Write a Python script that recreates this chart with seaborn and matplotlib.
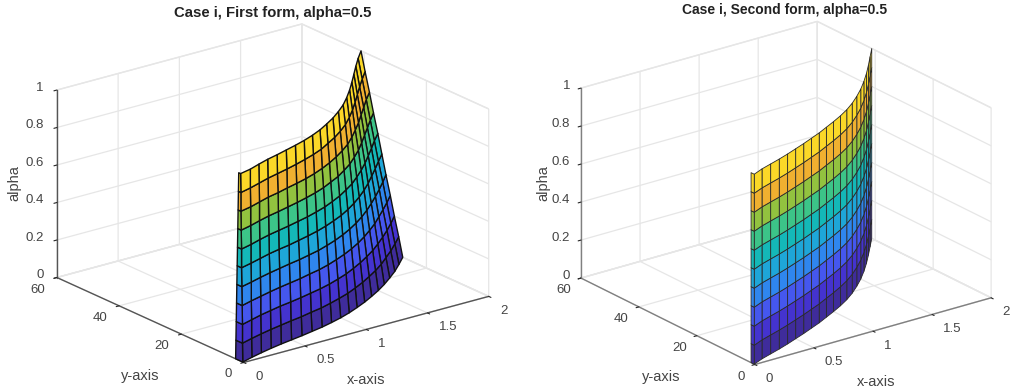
import numpy as np
import matplotlib
matplotlib.use('Agg')
import matplotlib.pyplot as plt
from matplotlib.colors import ListedColormap
from mpl_toolkits.mplot3d import proj3d
import seaborn as sns

x_nodes = [0, 0, 0.1, 0.2, 0.3, 0.4, 0.5, 0.6, 0.7, 0.8, 0.9, 1.0, 1.1, 1.2, 1.3, 1.4, 1.5, 1.6, 1.7, 1.8, 1.9, 2.0]
z_nodes = [0, 0.1, 0.2, 0.3, 0.4, 0.5, 0.6, 0.7, 0.8, 0.9, 1.0]

# y, one row per z node
y_first = [
    [2.6, 0.3, 1.3, 2.2, 3.0, 3.7, 4.3, 4.9, 5.6, 6.3, 7.2, 8.2, 9.4, 10.8, 12.3, 14.0, 15.8, 17.8, 20.0, 22.3, 24.9, 27.6],
    [2.5, 0.4, 1.4, 2.3, 3.1, 3.8, 4.5, 5.1, 5.9, 6.6, 7.6, 8.7, 9.9, 11.4, 13.0, 14.8, 16.7, 18.8, 21.2, 23.6, 26.2, 28.9],
    [2.4, 0.4, 1.4, 2.4, 3.2, 4.0, 4.6, 5.3, 6.1, 6.9, 7.9, 9.1, 10.4, 12.0, 13.7, 15.6, 17.6, 19.9, 22.3, 24.8, 27.5, 30.3],
    [2.3, 0.5, 1.5, 2.4, 3.3, 4.1, 4.8, 5.5, 6.4, 7.2, 8.3, 9.6, 11.0, 12.6, 14.4, 16.4, 18.6, 20.9, 23.5, 26.1, 28.8, 31.6],
    [2.2, 0.6, 1.5, 2.5, 3.4, 4.2, 5.0, 5.7, 6.6, 7.5, 8.7, 10.0, 11.5, 13.2, 15.1, 17.2, 19.5, 22.0, 24.6, 27.3, 30.1, 33.0],
    [2.1, 0.7, 1.6, 2.6, 3.6, 4.4, 5.1, 6.0, 6.9, 7.9, 9.1, 10.5, 12.0, 13.8, 15.8, 18.0, 20.4, 23.0, 25.8, 28.6, 31.5, 34.3],
    [2.0, 0.7, 1.6, 2.7, 3.7, 4.5, 5.3, 6.2, 7.1, 8.2, 9.4, 10.9, 12.5, 14.4, 16.4, 18.8, 21.3, 24.0, 26.9, 29.8, 32.8, 35.6],
    [1.9, 0.8, 1.7, 2.8, 3.8, 4.6, 5.5, 6.4, 7.4, 8.5, 9.8, 11.4, 13.0, 15.0, 17.1, 19.6, 22.2, 25.1, 28.1, 31.1, 34.1, 37.0],
    [1.8, 0.9, 1.7, 2.8, 3.9, 4.7, 5.7, 6.6, 7.6, 8.8, 10.2, 11.8, 13.6, 15.6, 17.8, 20.4, 23.2, 26.1, 29.2, 32.3, 35.4, 38.3],
    [1.7, 0.9, 1.8, 2.9, 4.0, 4.9, 5.8, 6.8, 7.9, 9.1, 10.5, 12.3, 14.1, 16.2, 18.5, 21.2, 24.1, 27.2, 30.4, 33.6, 36.7, 39.7],
    [1.6, 1.0, 1.8, 3.0, 4.1, 5.0, 6.0, 7.0, 8.1, 9.4, 10.9, 12.7, 14.6, 16.8, 19.2, 22.0, 25.0, 28.2, 31.5, 34.8, 38.0, 41.0],
]
# second surface does not change with z
y_second = [1.3, 0.2, 1.6, 2.7, 3.8, 5.0, 6.3, 7.6, 9.0, 10.4, 12.0, 13.6, 15.3, 17.2, 19.4, 21.9, 24.6, 27.6, 30.8, 34.2, 37.7, 41.2]

row_colors = ['#3f2c9b', '#4433cf', '#4557ee', '#2f86ee', '#1ea6d8',
              '#14b8b8', '#3cc488', '#92c23f', '#f0b030', '#fbd828']

x_ticks = [0, 0.5, 1, 1.5, 2]
y_ticks = [0, 20, 40, 60]
z_ticks = [0, 0.2, 0.4, 0.6, 0.8, 1]
x_ticklabels = ['0', '0.5', '1', '1.5', '2']
y_ticklabels = ['0', '20', '40', '60']
z_ticklabels = ['0', '0.2', '0.4', '0.6', '0.8', '1']

W, H = 1016, 392
TEXT = '#444444'

sns.set_theme(style='white')
plt.rcParams['font.family'] = ['Liberation Sans', 'DejaVu Sans']

cmap = ListedColormap(sns.color_palette(row_colors))
fig = plt.figure(figsize=(W / 100, H / 100), dpi=100)


def put_text(s, x, y, size=10.5, **kw):
    fig.text(x / W, 1 - y / H, s, fontsize=size, ha='center', va='center', **kw)


def tick_text(ax, pos, s, offset, ha):
    # mplot3d only pads tick labels outward, so place them from the projected tick
    px, py, _ = proj3d.proj_transform(*pos, ax.get_proj())
    ax.annotate(s, xy=(px, py), xytext=(offset[0] * 0.72, -offset[1] * 0.72), textcoords='offset points',
                ha=ha, va='center', fontsize=9.5, color=TEXT, annotation_clip=False)


def draw_panel(y_grid, box, aspect, elev, azim, edge, lw, axis_color, offsets):
    left, top, size = box
    ax = fig.add_axes([left / W, (H - top - size) / H, size / W, size / H],
                      projection='3d', proj_type='ortho', facecolor='none')
    ax.view_init(elev=elev, azim=azim)
    ax.set_box_aspect(aspect)
    X, Z = np.meshgrid(x_nodes, z_nodes)
    ax.plot_surface(X, np.array(y_grid), Z, rstride=1, cstride=1, cmap=cmap, vmin=0, vmax=1,
                    edgecolor=edge, linewidth=lw, shade=False)
    ax.set_xlim(0, 2, view_margin=0)
    ax.set_ylim(0, 60, view_margin=0)
    ax.set_zlim(0, 1, view_margin=0)
    ax.set_xticks(x_ticks, [''] * len(x_ticks))
    ax.set_yticks(y_ticks, [''] * len(y_ticks))
    ax.set_zticks(z_ticks, [''] * len(z_ticks))
    for axis in (ax.xaxis, ax.yaxis, ax.zaxis):
        axis.set_pane_color((1, 1, 1, 1))
        axis.pane.set_edgecolor('#e6e6e6')
        axis.line.set_color(axis_color)
        axis.line.set_linewidth(1.0)
        axis._axinfo['grid'].update(color='#e6e6e6', linewidth=0.9)
        axis._axinfo['tick'].update(inward_factor=0.15, outward_factor=0.0,
                                    linewidth={True: 0.8, False: 0.5}, color=axis_color)
    for t, s in zip(x_ticks, x_ticklabels):
        tick_text(ax, (t, 0, 0), s, offsets[0], 'left')
    for t, s in zip(y_ticks, y_ticklabels):
        tick_text(ax, (0, t, 0), s, offsets[1], 'right')
    for t, s in zip(z_ticks, z_ticklabels):
        tick_text(ax, (0, 60, t), s, offsets[2], 'right')
    return ax


draw_panel(y_first, (34, -33, 465), (309, 306, 200), 20.5, -127.6, '#111111', 1.0, '#555555',
           [(12, 14.5), (-12, 12), (-13, -2.5)])
draw_panel(np.tile(y_second, (len(z_nodes), 1)), (556, -25, 448), (296, 289, 205), 22, -127, '#2a2a2a', 0.6, '#808080',
           [(11, 14.5), (-10, 12), (-11, -2.5)])

put_text('Case i, First form, alpha=0.5', 273, 13, size=10.7, fontweight='bold', color='#222222')
put_text('Case i, Second form, alpha=0.5', 785, 10, size=10, fontweight='bold', color='#222222')
put_text('x-axis', 366, 380, color=TEXT)
put_text('y-axis', 140, 376, color=TEXT)
put_text('alpha', 14, 183, color=TEXT, rotation=90)
put_text('x-axis', 876, 382, color=TEXT)
put_text('y-axis', 661, 377, color=TEXT)
put_text('alpha', 543, 183, color=TEXT, rotation=90)

fig.savefig('out.png', dpi=100)
